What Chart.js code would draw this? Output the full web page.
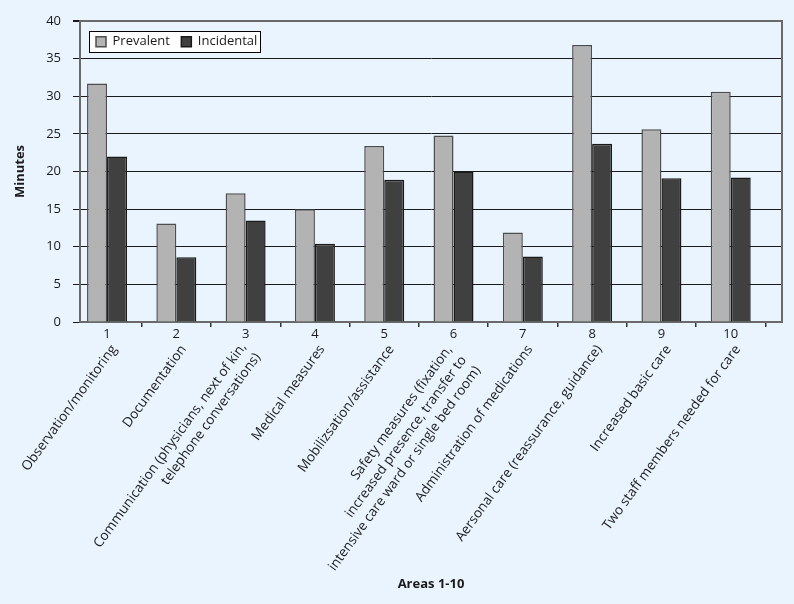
<!DOCTYPE html>
<html>
<head>
<meta charset="utf-8">
<script src="https://cdn.jsdelivr.net/npm/chart.js@4/dist/chart.umd.min.js"></script>
<style>
  html, body { margin: 0; padding: 0; background: #eaf4fe; }
  canvas { display: block; }
</style>
</head>
<body>
<canvas id="c" width="794" height="604"></canvas>
<script>
// ---- data ----
const categories = ['1', '2', '3', '4', '5', '6', '7', '8', '9', '10'];
const areaLabels = [
  ['Observation/monitoring'],
  ['Documentation'],
  ['Communication (physicians, next of kin,', 'telephone conversations)'],
  ['Medical measures'],
  ['Mobilizsation/assistance'],
  ['Safety measures (fixation,', 'increased presence, transfer to', 'intensive care ward or single bed room)'],
  ['Administration of medications'],
  ['Aersonal care (reassurance, guidance)'],
  ['Increased basic care'],
  ['Two staff members needed for care']
];
const prevalent  = [31.7, 13.1, 17.1, 15.0, 23.4, 24.8, 11.9, 36.8, 25.6, 30.6];
const incidental = [22.0,  8.6, 13.5, 10.4, 18.9, 20.0,  8.7, 23.7, 19.1, 19.2];
const seriesNames = ['Prevalent', 'Incidental'];
const yAxisTitle = 'Minutes';
const xAxisTitle = 'Areas 1-10';

// ---- helpers ----
const FONT = "'Open Sans', 'Noto Sans', sans-serif";
const TEXT = '#1a1a1a';
const FRAME = '#6a6a6a';

// multi-line rotated labels: blank half-lines + trailing spaces to centre blocks like the original
function blockLabel(lines) {
  const n = lines.length;
  const tail = ' '.repeat(n - 1);
  const out = n === 1 ? [''] : [];
  lines.forEach((ln, j) => { if (j) out.push(''); out.push(ln + tail); });
  return out;
}
const setCategoryTicks = s => { s.ticks = categories.map((_, i) => ({ value: i })); };

const legendInPlot = {
  id: 'legendInPlot',
  afterInit(chart) {
    const lg = chart.legend;
    const fit = lg.fit;
    lg.fit = function () { fit.call(this); this.height = 0; };
  },
  afterLayout(chart, args, o) {
    const lg = chart.legend, ca = chart.chartArea;
    const pad = lg.options.labels.padding;
    const w = lg.lineWidths[0] - pad;
    const x0 = ca.left + o.dx, y0 = ca.top + o.dy;
    lg.left = x0 - pad; lg.top = y0 - pad;
    lg.right = x0 + w + pad; lg.bottom = y0 + 40;
    lg.width = lg.right - lg.left; lg.height = lg.bottom - lg.top;
    chart.$legendFrame = { x: x0 - o.fl, y: y0 - o.ft, w: w + o.fl + o.fr, h: o.fh };
  },
  beforeDraw(chart) {
    const f = chart.$legendFrame; if (!f) return;
    const ctx = chart.ctx;
    ctx.save();
    ctx.fillStyle = '#ffffff';
    ctx.fillRect(Math.round(f.x), Math.round(f.y), Math.round(f.w), Math.round(f.h));
    ctx.strokeStyle = '#000000';
    ctx.lineWidth = 1;
    ctx.strokeRect(Math.round(f.x) + 0.5, Math.round(f.y) + 0.5, Math.round(f.w), Math.round(f.h));
    ctx.restore();
  }
};

Chart.defaults.font.family = FONT;
Chart.defaults.color = TEXT;

new Chart(document.getElementById('c'), {
  type: 'bar',
  data: {
    datasets: [
      {
        label: seriesNames[0],
        data: prevalent.map((v, i) => ({ x: i, y: v })),
        backgroundColor: '#b3b3b3',
        borderColor: '#4d4d4d',
        borderWidth: 1.5,
        xAxisID: 'x', yAxisID: 'y'
      },
      {
        label: seriesNames[1],
        data: incidental.map((v, i) => ({ x: i, y: v })),
        backgroundColor: '#404040',
        borderColor: '#1a1a1a',
        borderWidth: 1.5,
        xAxisID: 'x', yAxisID: 'y'
      }
    ]
  },
  options: {
    responsive: false,
    devicePixelRatio: 1,
    animation: false,
    events: [],
    barPercentage: 1,
    categoryPercentage: 0.577,
    layout: { autoPadding: false, padding: { top: 21, left: 0, right: 0, bottom: 0 } },
    plugins: {
      tooltip: { enabled: false },
      legend: {
        display: true,
        position: 'top',
        align: 'start',
        labels: {
          boxWidth: 10, boxHeight: 10, padding: 11.5,
          color: TEXT,
          font: { size: 13, family: FONT }
        }
      },
      legendInPlot: { dx: 16, dy: 14.2, fl: 7, ft: 4.2, fr: 3, fh: 21 }
    },
    scales: {
      x: {
        type: 'linear', position: 'bottom', axis: 'x',
        min: -0.39, max: 9.74, bounds: 'data', offset: false,
        afterBuildTicks: setCategoryTicks,
        afterFit: s => { s.height = 18; },
        grid: { offset: true, drawOnChartArea: false, drawTicks: true, tickLength: 5, color: '#333333', lineWidth: 1.5 },
        border: { display: true, color: FRAME, width: 2 },
        ticks: {
          autoSkip: false, minRotation: 0, maxRotation: 0, padding: -1,
          color: TEXT, font: { size: 13, family: FONT },
          callback: (v, i) => categories[i]
        }
      },
      xl: {
        type: 'linear', position: 'bottom', axis: 'x',
        min: -0.39, max: 9.74, bounds: 'data', offset: false,
        afterBuildTicks: setCategoryTicks,
        afterFit: s => { s.height = 264; },
        grid: { display: false, drawTicks: false, offset: false },
        border: { display: false },
        ticks: {
          autoSkip: false, minRotation: 54, maxRotation: 54, padding: -1,
          color: TEXT, font: { size: 13.5, family: FONT, lineHeight: 0.65 },
          callback: (v, i) => blockLabel(areaLabels[i])
        },
        title: {
          display: true, text: xAxisTitle, color: TEXT,
          font: { size: 13, weight: 'bold', family: FONT },
          padding: { top: 0, bottom: 12 }
        }
      },
      y: {
        type: 'linear', position: 'left',
        min: 0, max: 40,
        afterFit: s => { s.width = 80; },
        grid: {
          color: c => (c.tick && c.tick.value === 0) ? 'rgba(0,0,0,0)' : ((c.tick && c.tick.value === 40) ? FRAME : '#1a1a1a'),
          lineWidth: c => (c.tick && c.tick.value === 40) ? 2 : 1,
          tickColor: '#1a1a1a', tickLength: 7, drawTicks: true
        },
        border: { display: true, color: FRAME, width: 2 },
        ticks: { stepSize: 5, padding: 12, color: TEXT, font: { size: 13, family: FONT } },
        title: {
          display: true, text: yAxisTitle, color: TEXT,
          font: { size: 13, weight: 'bold', family: FONT },
          padding: { top: 12, bottom: 0 }
        }
      },
      y2: {
        type: 'linear', position: 'right',
        afterFit: s => { s.width = 12; },
        grid: { drawOnChartArea: false, drawTicks: false },
        border: { display: true, color: FRAME, width: 2 },
        ticks: { display: false }
      }
    }
  },
  plugins: [legendInPlot]
});
</script>
</body>
</html>
